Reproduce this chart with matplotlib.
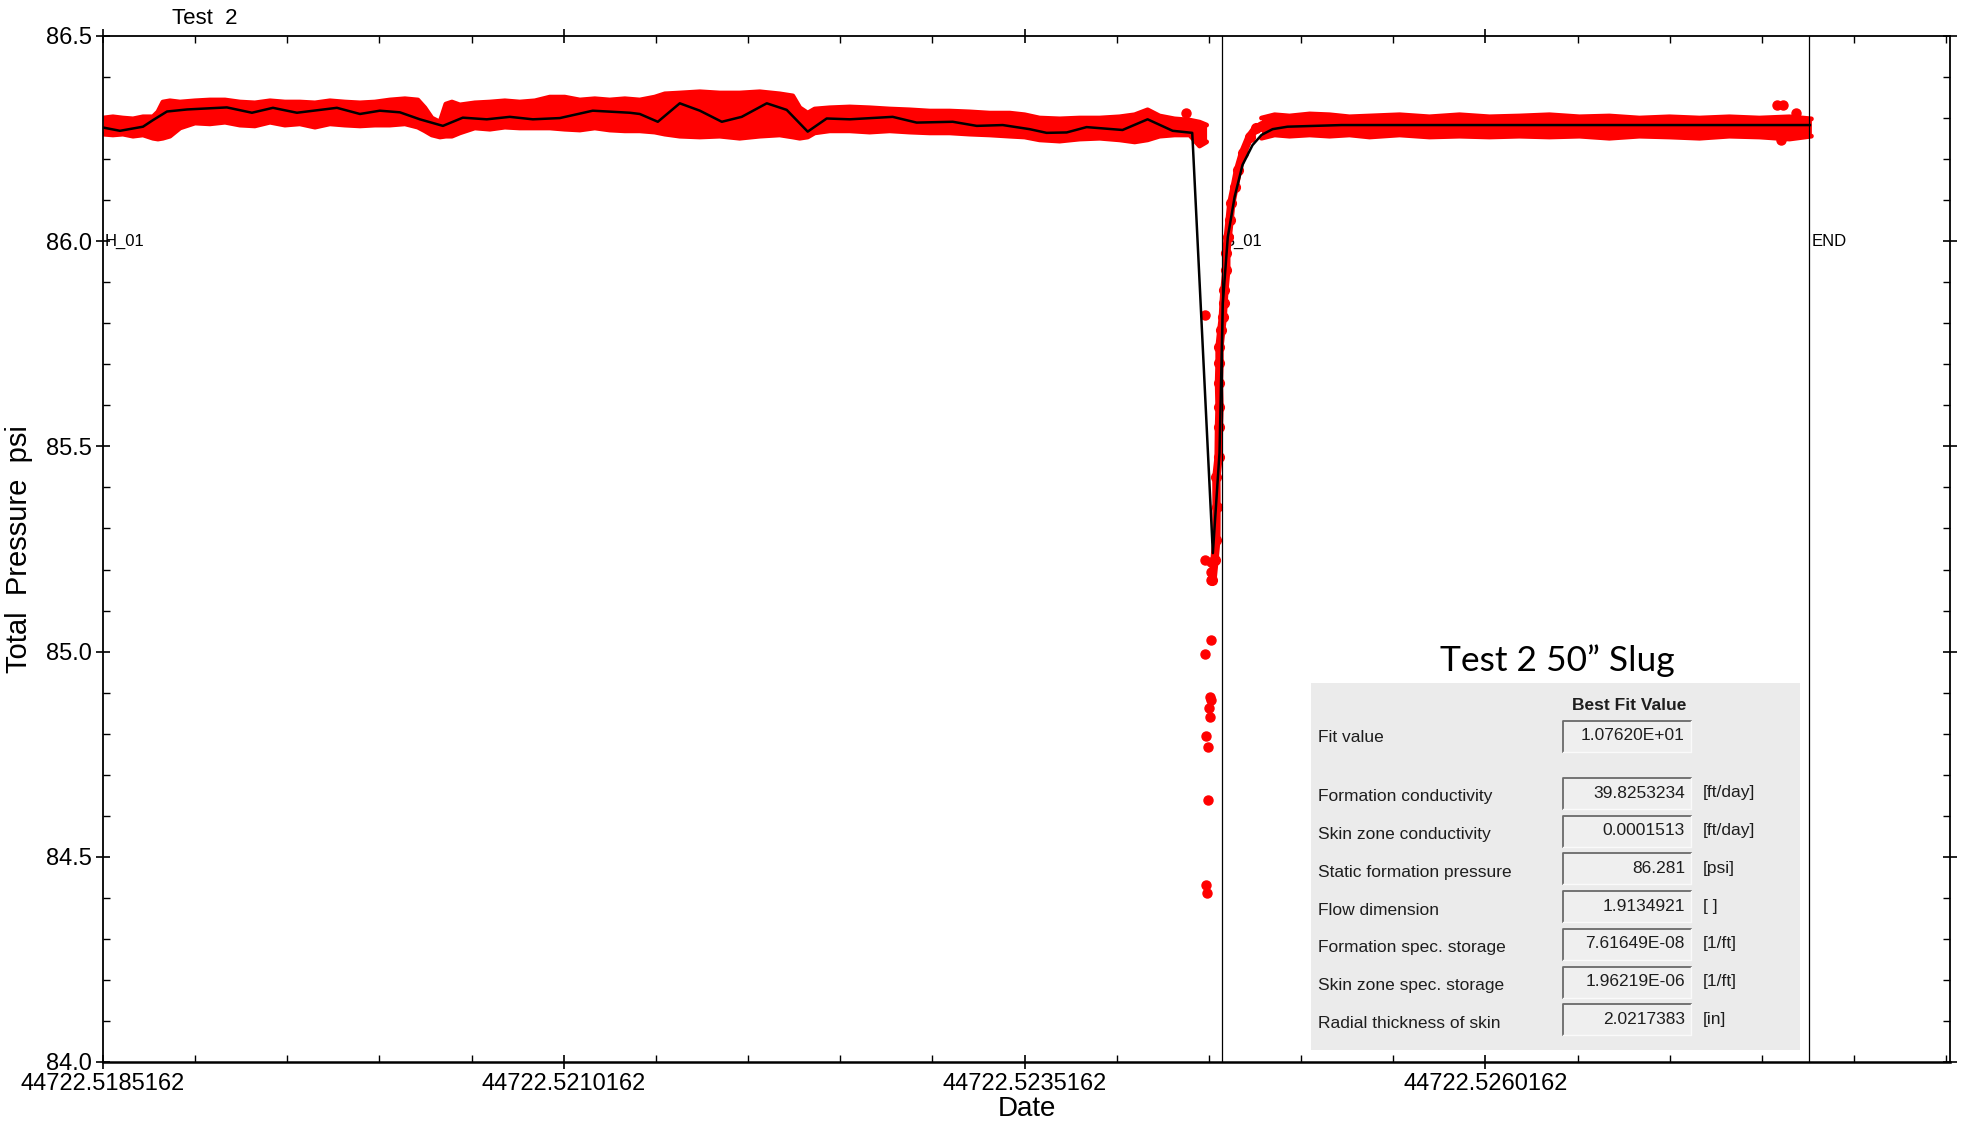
import matplotlib
matplotlib.use("Agg")
import matplotlib.pyplot as plt
from matplotlib.ticker import FixedLocator, MultipleLocator, FuncFormatter
from matplotlib.patches import Rectangle

plt.rcParams['font.family'] = ['Liberation Sans', 'DejaVu Sans']

T0 = 44722.5185162   # first date tick (spreadsheet day number)
DT = 1e-4            # time offsets below are in units of 1e-4 day after T0

# measured pressure: upper / lower edge of the dense red point cloud, before the slug
band1_t = [0.00, 0.54, 1.08, 1.63, 2.17, 2.71, 2.98, 3.25, 3.63, 4.18, 4.99, 5.80, 6.62, 7.43,
           8.24, 9.06, 9.87, 10.68, 11.50, 12.31, 13.12, 13.94, 14.75, 15.56, 16.38, 17.08,
           17.46, 17.84, 18.28, 18.60, 18.93, 19.36, 20.17, 20.99, 21.80, 22.61, 23.43, 24.24,
           25.05, 25.87, 26.68, 27.49, 28.31, 29.12, 29.93, 30.48, 31.29, 32.38, 33.46, 34.54,
           35.63, 36.71, 37.42, 37.80, 38.23, 38.61, 39.42, 40.51, 41.59, 42.68, 43.76, 44.85,
           45.93, 47.02, 48.10, 49.19, 50.00, 50.81, 51.90, 52.98, 54.07, 55.15, 55.97, 56.67,
           57.32, 58.13, 58.95, 59.49, 59.87]
band1_hi = [86.300, 86.303, 86.300, 86.298, 86.303, 86.303, 86.315, 86.339, 86.342, 86.339,
            86.342, 86.344, 86.344, 86.339, 86.337, 86.342, 86.339, 86.339, 86.337, 86.342,
            86.339, 86.337, 86.339, 86.344, 86.347, 86.344, 86.325, 86.300, 86.290, 86.334,
            86.339, 86.332, 86.337, 86.339, 86.342, 86.339, 86.342, 86.351, 86.351, 86.344,
            86.347, 86.344, 86.347, 86.344, 86.351, 86.359, 86.361, 86.364, 86.361, 86.361,
            86.364, 86.359, 86.354, 86.325, 86.312, 86.322, 86.325, 86.327, 86.325, 86.322,
            86.320, 86.317, 86.317, 86.315, 86.312, 86.312, 86.308, 86.300, 86.298, 86.300,
            86.300, 86.303, 86.308, 86.320, 86.305, 86.298, 86.295, 86.290, 86.283]
band1_lo = [86.261, 86.259, 86.261, 86.256, 86.259, 86.251, 86.249, 86.251, 86.256, 86.276,
            86.288, 86.286, 86.290, 86.283, 86.281, 86.290, 86.283, 86.286, 86.278, 86.286,
            86.283, 86.281, 86.283, 86.283, 86.286, 86.278, 86.269, 86.259, 86.254, 86.256,
            86.256, 86.264, 86.276, 86.273, 86.278, 86.276, 86.276, 86.276, 86.273, 86.271,
            86.276, 86.271, 86.269, 86.269, 86.266, 86.261, 86.256, 86.254, 86.256, 86.251,
            86.256, 86.259, 86.254, 86.251, 86.254, 86.264, 86.269, 86.269, 86.266, 86.269,
            86.266, 86.264, 86.264, 86.261, 86.259, 86.256, 86.254, 86.247, 86.244, 86.249,
            86.251, 86.247, 86.242, 86.247, 86.256, 86.259, 86.259, 86.232, 86.242]

# measured pressure after recovery
band2_t = [62.85, 63.56, 64.37, 65.46, 66.54, 67.62, 68.71, 70.34, 71.96, 73.59, 75.22,
           76.84, 78.47, 80.10, 81.72, 83.35, 84.98, 86.61, 88.23, 89.86, 91.49, 92.68]
band2_hi = [86.300, 86.308, 86.305, 86.310, 86.308, 86.303, 86.305, 86.308, 86.303, 86.308,
            86.303, 86.305, 86.308, 86.303, 86.305, 86.300, 86.303, 86.300, 86.303, 86.300,
            86.303, 86.298]
band2_lo = [86.251, 86.259, 86.256, 86.259, 86.256, 86.259, 86.254, 86.259, 86.254, 86.256,
            86.254, 86.256, 86.254, 86.256, 86.251, 86.256, 86.254, 86.251, 86.256, 86.254,
            86.249, 86.256]

# measured points along the recovery curve
rec_t = [60.19, 60.30, 60.40, 60.41, 60.40, 60.52, 60.54, 60.57, 60.54, 60.57, 60.57, 60.67,
         60.75, 60.79, 60.84, 60.94, 60.94, 61.02, 61.12, 61.21, 61.39, 61.57, 61.84, 62.20,
         62.56, 62.85]
rec_p = [85.174, 85.223, 85.272, 85.352, 85.425, 85.474, 85.547, 85.596, 85.654, 85.703,
         85.742, 85.784, 85.815, 85.849, 85.881, 85.930, 85.971, 86.010, 86.052, 86.093,
         86.132, 86.173, 86.215, 86.254, 86.276, 86.281]

# scattered points in the slug dip
dip_t = [59.76, 59.76, 60.12, 60.12, 60.12, 60.12, 59.76, 60.03, 60.12, 59.99, 60.03, 59.82,
         59.94, 59.94, 59.85, 59.89]
dip_p = [85.821, 85.223, 85.219, 85.195, 85.174, 85.028, 84.994, 84.890, 84.882, 84.862,
         84.841, 84.794, 84.768, 84.638, 84.431, 84.411]

# isolated spikes
spike_t = [58.77, 90.84, 91.16, 91.87, 91.05]
spike_p = [86.312, 86.332, 86.332, 86.313, 86.247]

# best-fit model curve
fit_t = [0.00, 0.92, 2.17, 2.71, 3.47, 4.56, 6.72, 8.08, 9.22, 10.52, 12.69, 13.94, 15.02,
         16.11, 17.19, 18.44, 19.52, 20.82, 22.07, 23.32, 24.78, 26.57, 28.58, 29.12, 30.10,
         31.29, 32.38, 33.57, 34.65, 36.01, 37.09, 38.23, 39.26, 40.51, 42.84, 44.14, 46.10,
         47.40, 48.81, 50.27, 51.19, 52.28, 53.36, 55.31, 56.67, 58.03, 59.09, 59.13, 60.21,
         60.57, 60.75, 61.02, 61.39, 61.82, 62.36, 62.85, 63.45, 64.26, 67.19, 92.60]
fit_p = [86.277, 86.269, 86.279, 86.295, 86.316, 86.321, 86.326, 86.313, 86.325, 86.313,
         86.325, 86.310, 86.318, 86.314, 86.297, 86.281, 86.301, 86.297, 86.303, 86.297,
         86.300, 86.318, 86.313, 86.310, 86.291, 86.336, 86.318, 86.291, 86.303, 86.336,
         86.320, 86.267, 86.299, 86.297, 86.303, 86.289, 86.291, 86.281, 86.283, 86.273,
         86.264, 86.265, 86.278, 86.271, 86.297, 86.269, 86.264, 86.230, 85.240, 85.484,
         85.849, 86.010, 86.108, 86.186, 86.234, 86.259, 86.273, 86.279, 86.283, 86.283]

# event markers
event_t = [0.0, 60.68, 92.57]
event_lbl = ['H_01', 'S_01', 'END']

# fitted parameters
param_names = ['Formation conductivity', 'Skin zone conductivity', 'Static formation pressure',
               'Flow dimension', 'Formation spec. storage', 'Skin zone spec. storage',
               'Radial thickness of skin']
param_values = ['39.8253234', '0.0001513', '86.281', '1.9134921', '7.61649E-08',
                '1.96219E-06', '2.0217383']
param_units = ['[ft/day]', '[ft/day]', '[psi]', '[ ]', '[1/ft]', '[1/ft]', '[in]']
fit_value = '1.07620E+01'


def tx(offsets):
    return [T0 + v * DT for v in offsets]


RED = '#ff0000'
W, H = 1965, 1126
fig = plt.figure(figsize=(W / 100, H / 100), dpi=100)
ax = fig.add_axes([103 / W, 1 - 1062 / H, (1950 - 103) / W, (1062 - 36) / H])

# red measurement cloud
for bt, lo, hi in [(band1_t, band1_lo, band1_hi), (band2_t, band2_lo, band2_hi)]:
    ax.fill_between(tx(bt), lo, hi, color=RED, lw=0, zorder=2)
    ax.plot(tx(bt), hi, color=RED, lw=3.5, solid_capstyle='round', zorder=2)
    ax.plot(tx(bt), lo, color=RED, lw=3.5, solid_capstyle='round', zorder=2)
ax.plot(tx(rec_t), rec_p, '-o', color=RED, lw=6, ms=7, zorder=2)
ax.plot(tx(dip_t), dip_p, 'o', color=RED, ms=6.5, zorder=2)
ax.plot(tx(spike_t), spike_p, 'o', color=RED, ms=6.5, zorder=2)

# event lines and labels
for t, lbl in zip(event_t, event_lbl):
    if t > 0:
        ax.axvline(T0 + t * DT, color='black', lw=0.9, zorder=3)
    ax.annotate(lbl, (T0 + t * DT, 86.0), xytext=(1.5, 0), textcoords='offset points',
                fontsize=12, ha='left', va='center', zorder=1)

# best fit curve
ax.plot(tx(fit_t), fit_p, color='black', lw=1.8, zorder=4)

ax.set_xlim(T0, T0 + 100.2 * DT)
ax.set_ylim(84.0, 86.5)
ax.xaxis.set_major_locator(FixedLocator([T0 + k * 25 * DT for k in range(4)]))
ax.xaxis.set_minor_locator(FixedLocator([T0 + k * 5 * DT for k in range(21)]))
ax.xaxis.set_major_formatter(FuncFormatter(lambda v, p: f'{v:.7f}'))
ax.yaxis.set_major_locator(MultipleLocator(0.5))
ax.yaxis.set_minor_locator(MultipleLocator(0.1))
ax.yaxis.set_major_formatter(FuncFormatter(lambda v, p: f'{v:.1f}'))
ax.tick_params(which='major', direction='inout', length=10, width=1.2,
               top=True, right=True, labelsize=17, pad=3)
ax.tick_params(which='minor', direction='in', length=5, width=1, top=True, right=True)
for s in ax.spines.values():
    s.set_linewidth(1.3)
ax.spines['bottom'].set_linewidth(1.8)
ax.set_xlabel('Date', fontsize=20, labelpad=1)
ax.set_ylabel('Total  Pressure  psi', fontsize=21, labelpad=9)
fig.text(172 / W, 1 - 18 / H, 'Test  2', fontsize=16, va='center', ha='left')

# fitted-parameter panel (pixel coordinates inside the panel)
PX0, PY0, PW, PH = 1311, 683, 489, 367
tab = fig.add_axes([PX0 / W, 1 - (PY0 + PH) / H, PW / W, PH / H])
tab.set_xlim(0, PW)
tab.set_ylim(PH, 0)
tab.axis('off')
tab.add_patch(Rectangle((0, 0), PW, PH, facecolor='#ebebeb', edgecolor='none'))
fig.text((PX0 + 246) / W, 1 - 661 / H, 'Test 2 50\u201d Slug', family='Lato',
         fontsize=25.5, ha='center', va='center')

TXT = '#1e1e1e'


def value_box(yc, text):
    tab.add_patch(Rectangle((252, yc - 15), 128, 31, facecolor='#efefef', edgecolor='none'))
    tab.plot([252, 252, 380], [yc + 16, yc - 15, yc - 15], color='#6a6a6a', lw=1.3)
    tab.plot([252, 380, 380], [yc + 16, yc + 16, yc - 15], color='#fafafa', lw=1.0)
    tab.text(374, yc, text, fontsize=12.5, ha='right', va='center', color=TXT)


tab.text(318, 22, 'Best Fit Value', fontsize=12.5, fontweight='bold', ha='center',
         va='center', color=TXT)
tab.text(7, 54, 'Fit value', fontsize=12.5, ha='left', va='center', color=TXT)
value_box(53, fit_value)
for i, (name, val, unit) in enumerate(zip(param_names, param_values, param_units)):
    yc = 110 + i * 37.7
    tab.text(7, yc + 4, name, fontsize=12.5, ha='left', va='center', color=TXT)
    value_box(yc, val)
    tab.text(392, yc, unit, fontsize=12.5, ha='left', va='center', color=TXT)

fig.savefig('out.png', dpi=100, facecolor='white')
